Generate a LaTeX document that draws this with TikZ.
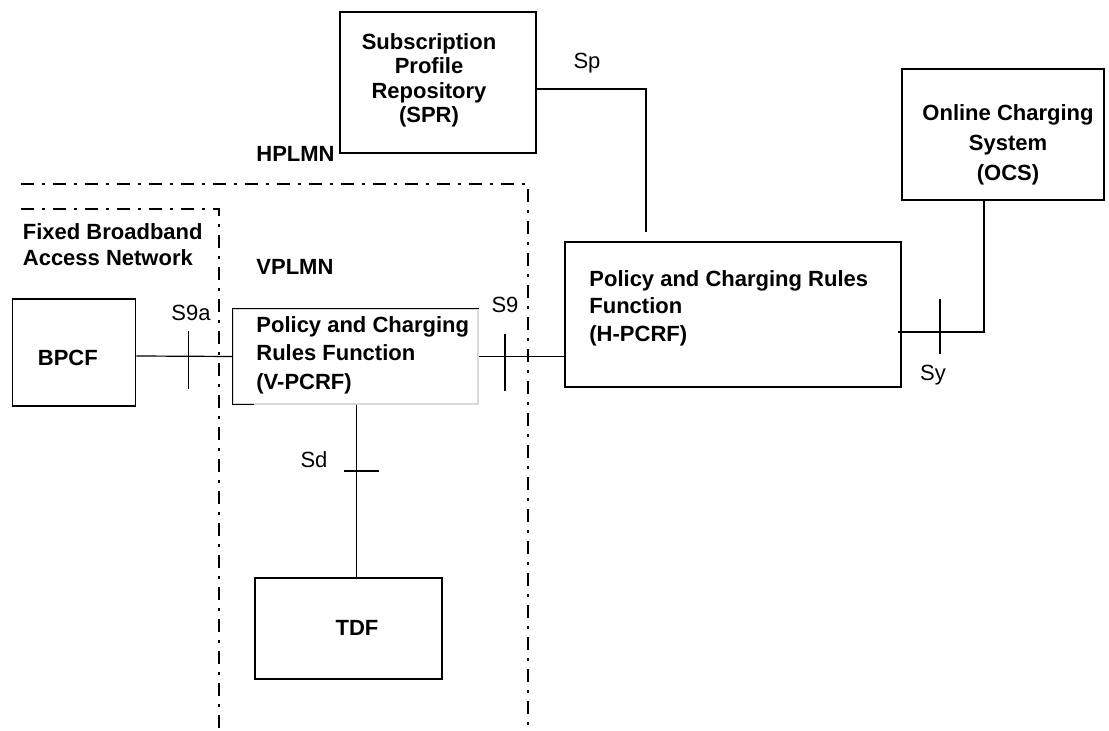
\documentclass[tikz,border=0pt]{standalone}
\usepackage{fontspec}
\setmainfont{Liberation Sans}
\begin{document}
\begin{tikzpicture}[x=0.5pt,y=-0.5pt,
  box/.style={draw=black,line width=0.6pt,fill=white,rectangle,inner sep=0pt},
  blbl/.style={font=\bfseries\fontsize{11}{13.75}\selectfont,inner sep=0pt},
  ilbl/.style={font=\fontsize{11}{13.75}\selectfont,inner sep=0pt},
  conn/.style={line width=0.6pt},
  tick/.style={line width=0.6pt},
  region/.style={line width=1.4pt,dash pattern=on 6.5pt off 4pt on 1.5pt off 4pt}]
\useasboundingbox (0,0) rectangle (1109,731);
% region boundaries
\draw[region] (21,184) -- (528,184) -- (528,731);
\draw[region] (21,209) -- (219,209) -- (219,731);
% boxes
\node[box,minimum width=98pt,minimum height=70.5pt] (spr) at (438,82.5) {};
\node[box,minimum width=101pt,minimum height=65.5pt] (ocs) at (1003,134.5) {};
\node[box,minimum width=168pt,minimum height=72.5pt] (hpcrf) at (733,314.5) {};
\node[box,draw=black!15,minimum width=122.5pt,minimum height=47.5pt] (vpcrf) at (355.5,356.5) {};
\draw[line width=0.6pt] ([xshift=11pt]vpcrf.south west) -- (vpcrf.south west) -- (vpcrf.north west) -- (vpcrf.north east);
\node[box,minimum width=61.75pt,minimum height=53.5pt] (bpcf) at (74,352.5) {};
\node[box,minimum width=93.5pt,minimum height=50.5pt] (tdf) at (348.5,628.5) {};
% box texts
\node[blbl,align=center,font=\bfseries\fontsize{11}{12.2}\selectfont] at (429,80.5) {Subscription\\Profile\\Repository\\(SPR)};
\node[blbl,align=center,font=\bfseries\fontsize{11}{15}\selectfont] at (1008,144.5) {Online Charging\\System\\(OCS)};
\node[blbl,align=left,anchor=west] at (589,308) {Policy and Charging Rules\\Function\\(H-PCRF)};
\node[blbl,align=left,anchor=west,font=\bfseries\fontsize{11}{14.25}\selectfont] at (256,355) {Policy and Charging\\Rules Function\\(V-PCRF)};
\node[blbl,anchor=west] at (37.5,358) {BPCF};
\node[blbl] at (357,628) {TDF};
% region labels
\node[blbl,align=left,anchor=west,font=\bfseries\fontsize{11}{13}\selectfont] at (22.5,245) {Fixed Broadband\\Access Network};
\node[blbl,anchor=west] at (256,266.5) {VPLMN};
\node[blbl,anchor=west] at (256,153.5) {HPLMN};
% connectors
\draw[conn] ([yshift=-1.75pt]bpcf.east) -- (vpcrf.west);
\draw[conn] (vpcrf.east) -- (vpcrf.east -| hpcrf.west);
\draw[conn] ([yshift=-3.25pt]spr.east) -| ([xshift=-43.5pt,yshift=4.5pt]hpcrf.north);
\draw[conn] ([xshift=-2pt,yshift=-8.75pt]hpcrf.east) -| ([xshift=-9.5pt]ocs.south);
\draw[conn] ([xshift=0.5pt]vpcrf.south) -- ([xshift=0.5pt]vpcrf.south |- tdf.north);
% ticks
\draw[tick] (188.6,331) -- (188.6,389);
\draw[tick] (505,334) -- (505,391);
\draw[tick] (940,299) -- (940,354);
\draw[tick] (344,471) -- (379,471);
% interface labels
\node[ilbl] at (191,313) {S9a};
\node[ilbl] at (505,305) {S9};
\node[ilbl] at (587,63) {Sp};
\node[ilbl] at (933,375) {Sy};
\node[ilbl] at (314,460) {Sd};
\end{tikzpicture}
\end{document}
